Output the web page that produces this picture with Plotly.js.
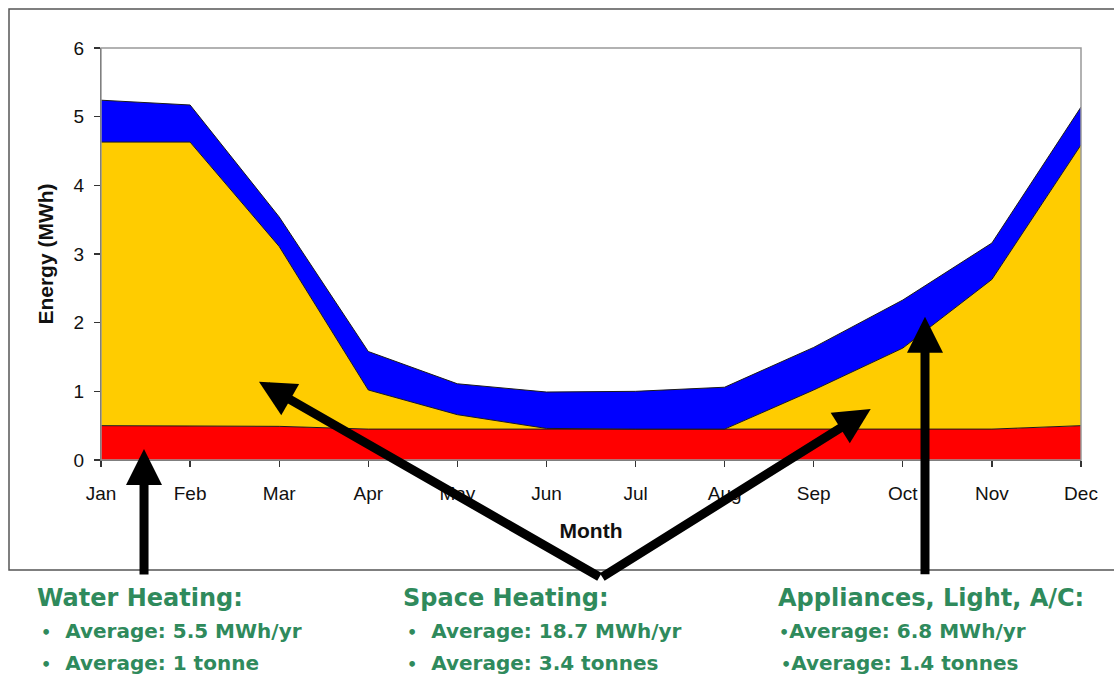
<!DOCTYPE html>
<html>
<head>
<meta charset="utf-8">
<script src="https://cdn.plot.ly/plotly-3.0.1.min.js"></script>
<style>html,body{margin:0;padding:0;background:#fff;}#chart{width:1114px;height:676px;}</style>
</head>
<body>
<div id="chart"></div>
<script>
// ---- data (MWh per month, stacked) ----
const months = ["Jan","Feb","Mar","Apr","May","Jun","Jul","Aug","Sep","Oct","Nov","Dec"];
const waterHeating = [0.50,0.50,0.49,0.45,0.45,0.45,0.45,0.45,0.45,0.45,0.45,0.50];
const spaceHeating = [4.13,4.13,2.62,0.57,0.21,0.01,0.00,0.00,0.57,1.18,2.18,4.09];
const appliances   = [0.61,0.54,0.43,0.56,0.45,0.53,0.55,0.61,0.62,0.70,0.53,0.55];
const yTicks = [0,1,2,3,4,5,6];

const edge = {color:'#1a1a1a', width:1};
const traces = [
  {x:months, y:waterHeating, name:'Water Heating', type:'scatter', mode:'lines', stackgroup:'e', line:edge, fillcolor:'#ff0000'},
  {x:months, y:spaceHeating, name:'Space Heating', type:'scatter', mode:'lines', stackgroup:'e', line:edge, fillcolor:'#ffcc00'},
  {x:months, y:appliances, name:'Appliances, Light, A/C', type:'scatter', mode:'lines', stackgroup:'e', line:edge, fillcolor:'#0000ff'}
];

// pixel -> paper helpers for the layout
const L=101, T=48, W=980, H=412;
const px = v => (v-L)/W;
const py = v => (T+H-v)/H;

const green = '#2f8a5c';
const headFont = {family:'"DejaVu Sans", sans-serif', size:24, color:green, weight:'bold'};
const bulFont  = {family:'"DejaVu Sans", sans-serif', size:20, color:green, weight:'bold'};
const dot = '<span style="font-size:16px">•</span>';

function txt(t, xp, yp, f){
  return {text:t, xref:'paper', yref:'paper', x:px(xp), y:py(yp), xanchor:'left', yanchor:'middle', showarrow:false, font:f};
}
function arrow(x, y, ax, ay){
  return {x:x, y:y, xref:'x', yref:'y', ax:ax, ay:ay, text:'', showarrow:true,
          arrowhead:2, arrowsize:0.8, arrowwidth:9, arrowcolor:'#000'};
}

const annotations = [
  arrow(0.483, 0.16, 0, 127),
  arrow(1.773, 1.14, 342, 196),
  arrow(8.64, 0.743, -270, 169),
  arrow(9.249, 2.087, 0, 259),
  txt('Water Heating:', 35, 598, headFont),
  txt(dot + '  Average: 5.5 MWh/yr', 39, 631, bulFont),
  txt(dot + '  Average: 1 tonne', 39, 663, bulFont),
  txt('Space Heating:', 401, 598, headFont),
  txt(dot + '  Average: 18.7 MWh/yr', 405, 631, bulFont),
  txt(dot + '  Average: 3.4 tonnes', 405, 663, bulFont),
  txt('Appliances, Light, A/C:', 776, 598, headFont),
  txt(dot + 'Average: 6.8 MWh/yr', 777, 631, bulFont),
  txt(dot + 'Average: 1.4 tonnes', 779, 663, bulFont)
];

const layout = {
  width:1114, height:676,
  margin:{l:L, r:1114-L-W, t:T, b:676-T-H, pad:0},
  paper_bgcolor:'#fff', plot_bgcolor:'#fff',
  showlegend:false,
  font:{family:'"Liberation Sans", Arial, sans-serif', color:'#111'},
  xaxis:{
    type:'category', range:[0,11], fixedrange:true,
    showgrid:false, zeroline:false,
    showline:true, linecolor:'#333', linewidth:1.2,
    ticks:'outside', ticklen:6, tickcolor:'#333', tickwidth:1.2,
    tickfont:{size:19, color:'#111'}, ticklabelstandoff:10,
    title:{text:'Month', font:{size:21, weight:'bold', color:'#111'}, standoff:20}
  },
  yaxis:{
    range:[0,6], tickvals:yTicks, fixedrange:true,
    showgrid:false, zeroline:false,
    showline:true, linecolor:'#333', linewidth:1.2,
    ticks:'outside', ticklen:6, tickcolor:'#333', tickwidth:1.2,
    tickfont:{size:19, color:'#111'}, ticklabelstandoff:6,
    title:{text:'Energy (MWh)', font:{size:21, weight:'bold', color:'#111'}, standoff:14}
  },
  shapes:[
    {type:'rect', xref:'paper', yref:'paper', x0:0, x1:1, y0:0, y1:1, line:{color:'#999', width:1.5}, layer:'above'},
    {type:'rect', xref:'paper', yref:'paper', x0:px(9), x1:px(1125), y0:py(570), y1:py(9), line:{color:'#555', width:1.5}, layer:'below'}
  ],
  annotations:annotations
};

Plotly.newPlot('chart', traces, layout, {displayModeBar:false, staticPlot:true});
</script>
</body>
</html>
